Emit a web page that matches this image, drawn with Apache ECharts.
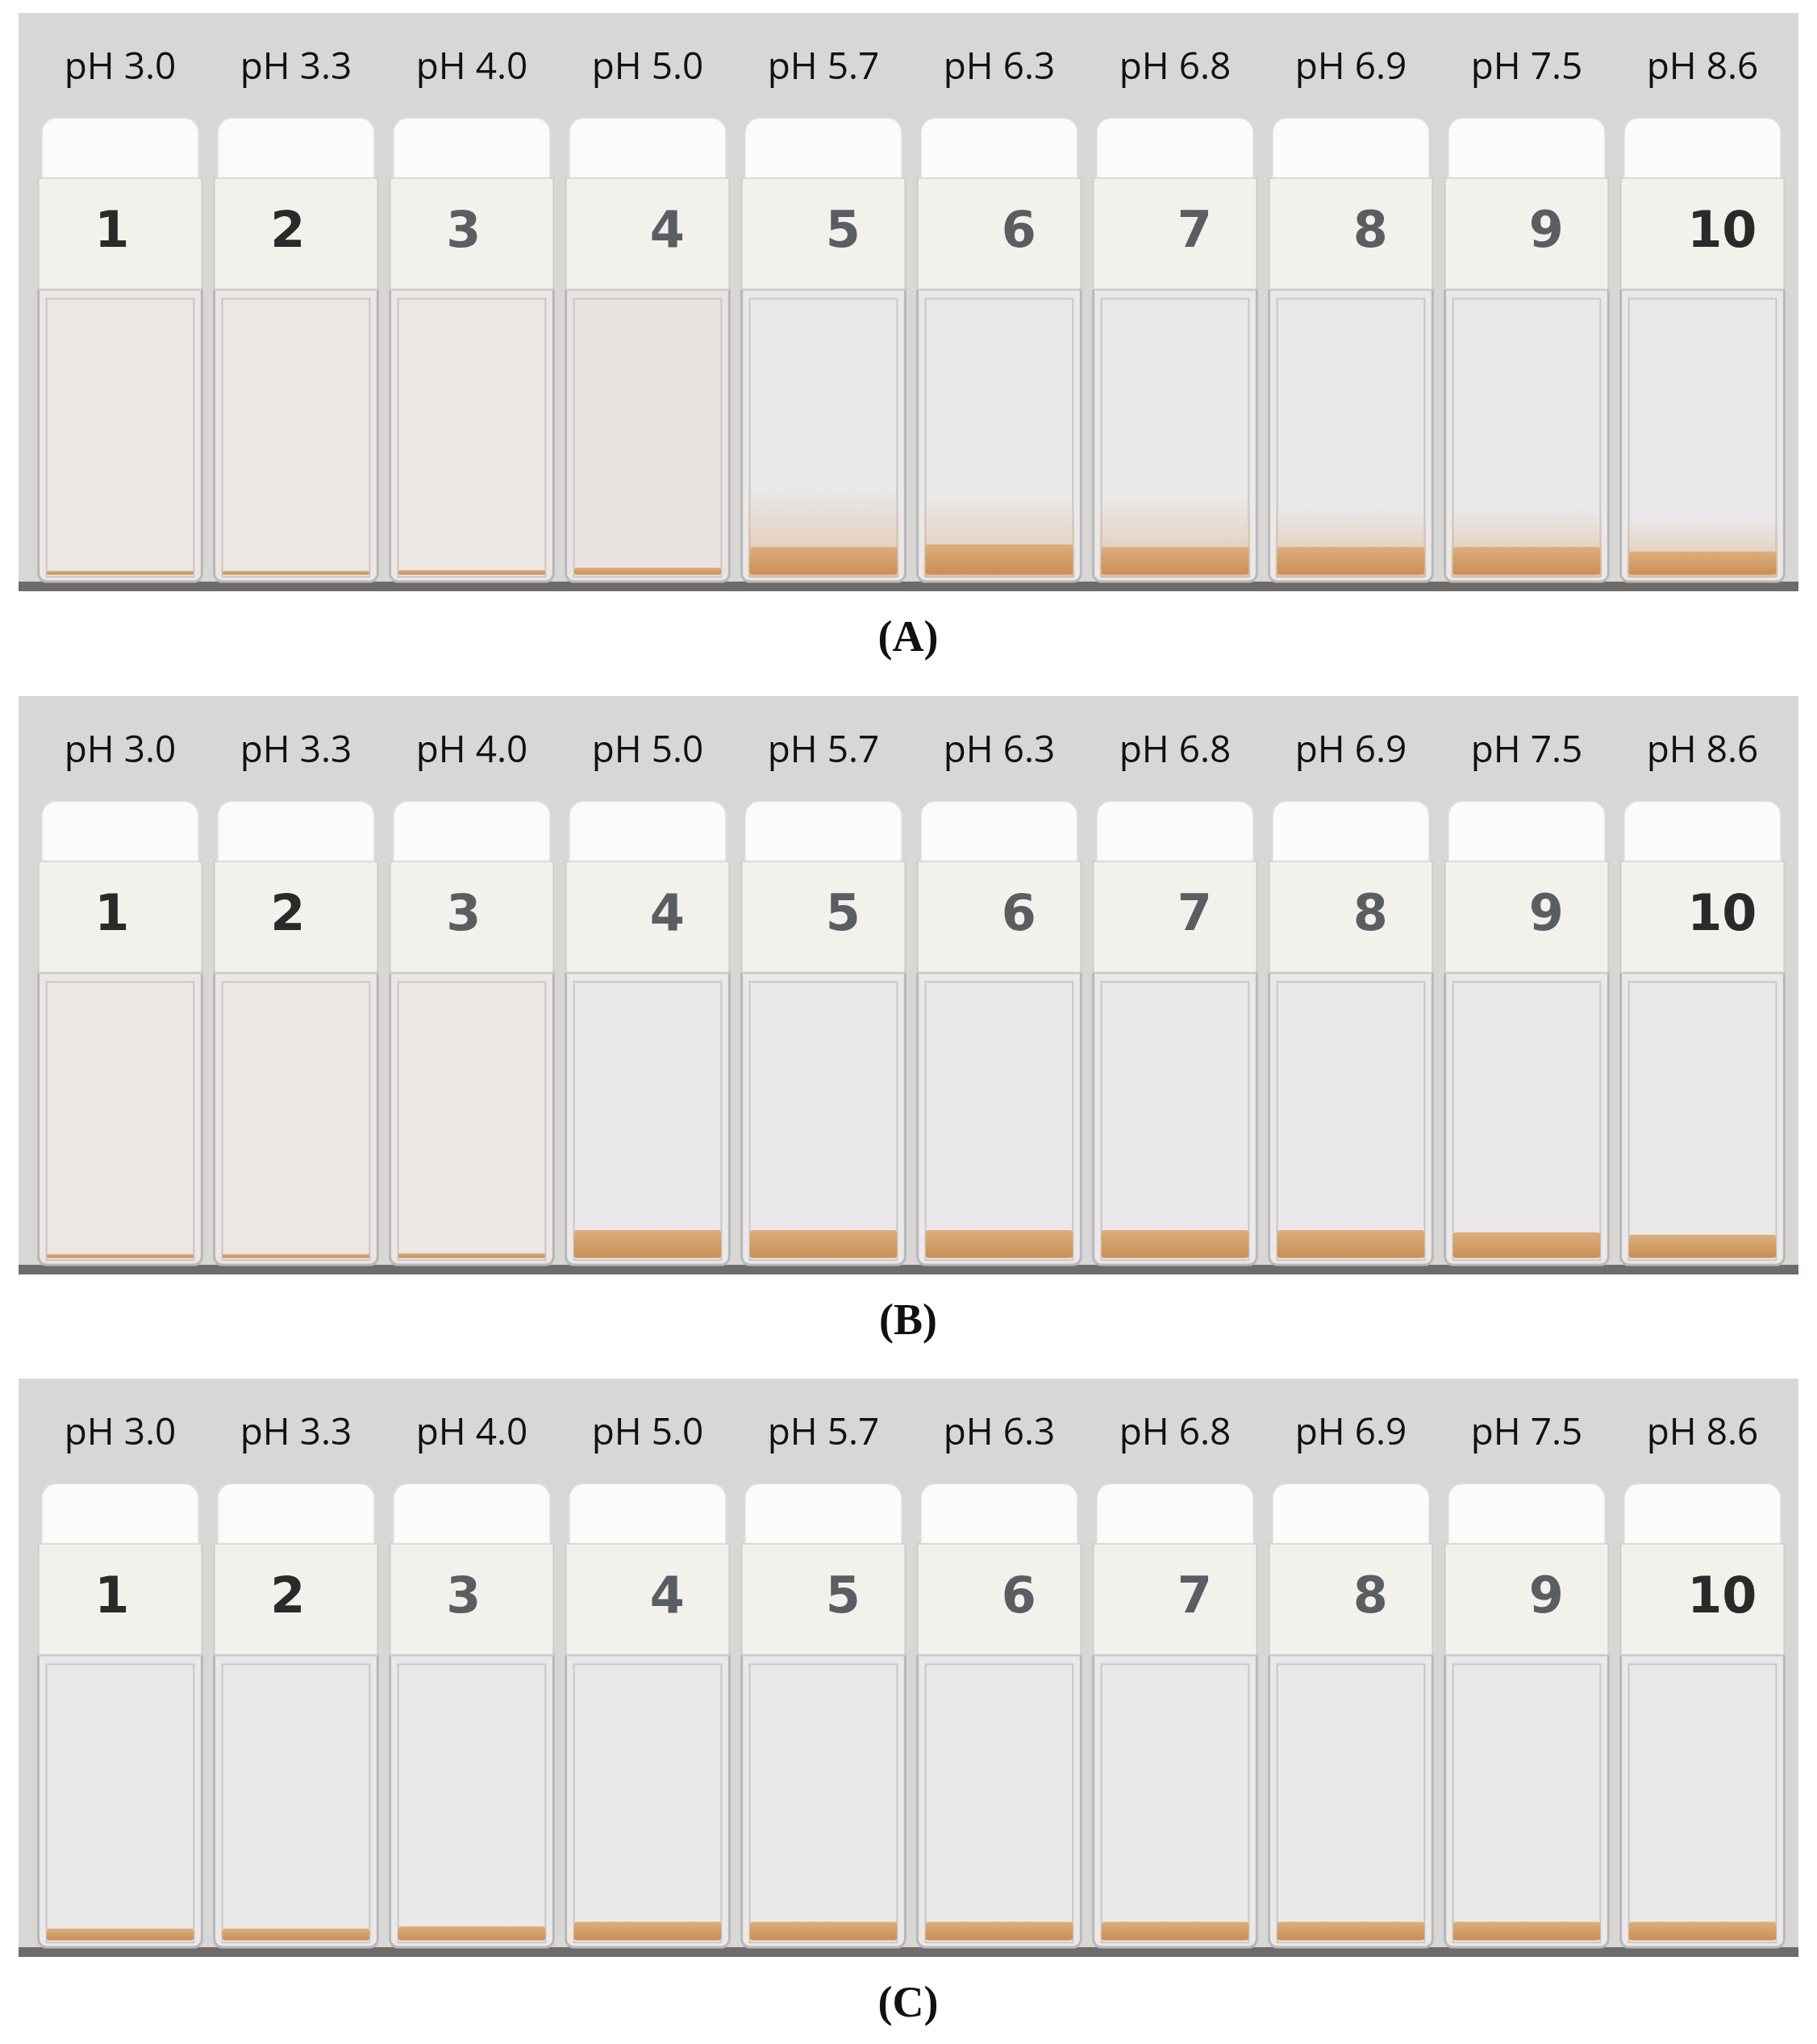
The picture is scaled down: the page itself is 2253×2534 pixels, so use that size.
<!DOCTYPE html>
<html><head><meta charset="utf-8">
<script src="https://cdn.jsdelivr.net/npm/echarts@6/dist/echarts.min.js"></script>
<style>html,body{margin:0;background:#fff}#c{width:2253px;height:2534px}</style>
</head><body><div id="c"></div>
<script>
const phLabels = ['pH 3.0','pH 3.3','pH 4.0','pH 5.0','pH 5.7','pH 6.3','pH 6.8','pH 6.9','pH 7.5','pH 8.6'];
const vialNumbers = ['1','2','3','4','5','6','7','8','9','10'];
const panelNames = ['(A)','(B)','(C)'];
// sediment layer height (% of vial height) and haze (cloud) top
const sedimentA = [0.8,0.8,1,1.5,6,6.5,6,6,6,5];
const hazeA = [0,0,0,0,20,18,18,16,16,14];
const cloudyA = [1,1,1,0.6,0,0,0,0,0,0];
const sedimentB = [0.8,0.8,1,6,6,6,6,6,5.5,5];
const hazeB = [0,0,0,0,0,0,0,0,0,0];
const cloudyB = [1,1,1,0,0,0,0,0,0,0];
const sedimentC = [2.5,2.5,3,4,4,4,4,4,4,4];
const hazeC = [0,0,0,0,0,0,0,0,0,0];
const cloudyC = [0,0,0,0,0,0,0,0,0,0];
const panels = [[sedimentA,hazeA,cloudyA],[sedimentB,hazeB,cloudyB],[sedimentC,hazeC,cloudyC]];
const panelTops = [16, 863, 1709];
const panelH = 717;

const chart = echarts.init(document.getElementById('c'));
const grids=[],xAxes=[],yAxes=[],series=[],graphics=[];
panelTops.forEach((t,i)=>{
  graphics.push({type:'rect',z:-10,shape:{x:23,y:t,width:2207,height:panelH},style:{fill:'#d9d7d6'}});
  graphics.push({type:'rect',z:-9,shape:{x:23,y:t+panelH-12,width:2207,height:12},style:{fill:'#6e6c6b'}});
  graphics.push({type:'text',x:1126,y:t+panelH+60,style:{text:panelNames[i],font:'bold 54px "Liberation Serif"',fill:'#111',align:'center',verticalAlign:'middle'}});
  grids.push({left:40,width:2180,top:t+130,height:575});
  xAxes.push({gridIndex:i,type:'category',data:phLabels,position:'top',axisLine:{show:false},axisTick:{show:false},
    axisLabel:{color:'#111',fontSize:46,fontFamily:'Open Sans',margin:38}});
  yAxes.push({gridIndex:i,type:'value',min:0,max:100,show:false});
  const d = panels[i];
  series.push({type:'custom',xAxisIndex:i,yAxisIndex:i,
    data:phLabels.map((p,k)=>[k,d[0][k],d[1][k],d[2][k]]),
    renderItem:(params,api)=>{
      const k=api.value(0), sed=api.value(1), haze=api.value(2), cloudy=api.value(3);
      const w=api.size([1,0])[0]*0.93;
      const cx=api.coord([k,0])[0], x=cx-w/2;
      const y=v=>api.coord([k,v])[1];
      const ch=[];
      ch.push({type:'rect',shape:{x:x,y:y(63),width:w,height:y(0)-y(63),r:[0,0,10,10]},
        style:{fill:cloudy?'rgba(236,230,228,'+(0.6+0.4*cloudy)+')':'#eae8e8',stroke:'#b9b7b7',lineWidth:3}});
      ch.push({type:'rect',shape:{x:x+10,y:y(61),width:w-20,height:y(1)-y(61)},style:{fill:'none',stroke:'#c9c7c7',lineWidth:2}});
      if(haze>0) ch.push({type:'rect',shape:{x:x+8,y:y(haze),width:w-16,height:y(1)-y(haze)},
        style:{fill:new echarts.graphic.LinearGradient(0,0,0,1,[{offset:0,color:'rgba(222,185,150,0)'},{offset:1,color:'rgba(222,180,140,0.7)'}])}});
      ch.push({type:'rect',shape:{x:x+10,y:y(1.5+sed),width:w-20,height:y(1.5)-y(1.5+sed),r:4},
        style:{fill:new echarts.graphic.LinearGradient(0,0,0,1,[{offset:0,color:'#dcae7c'},{offset:1,color:'#c98f55'}])}});
      ch.push({type:'rect',shape:{x:x,y:y(87),width:w,height:y(63)-y(87)},style:{fill:'#f3f1ec',stroke:'#cfcdca',lineWidth:2}});
      ch.push({type:'rect',shape:{x:x+4,y:y(100),width:w-8,height:y(87)-y(100),r:[18,18,0,0]},style:{fill:'#fbfbfa',stroke:'#dedcdb',lineWidth:2}});
      ch.push({type:'text',x:cx+(k>2?w*0.12:-w*0.05),y:y(75),style:{text:vialNumbers[k],font:'bold 62px "DejaVu Sans"',fill:k<2||k==9?'#2a2a2a':'#5a5e62',align:'center',verticalAlign:'middle'}});
      return {type:'group',children:ch};
    }});
});
chart.setOption({animation:false,backgroundColor:'#fff',grid:grids,xAxis:xAxes,yAxis:yAxes,series:series,graphic:graphics});
</script></body></html>
